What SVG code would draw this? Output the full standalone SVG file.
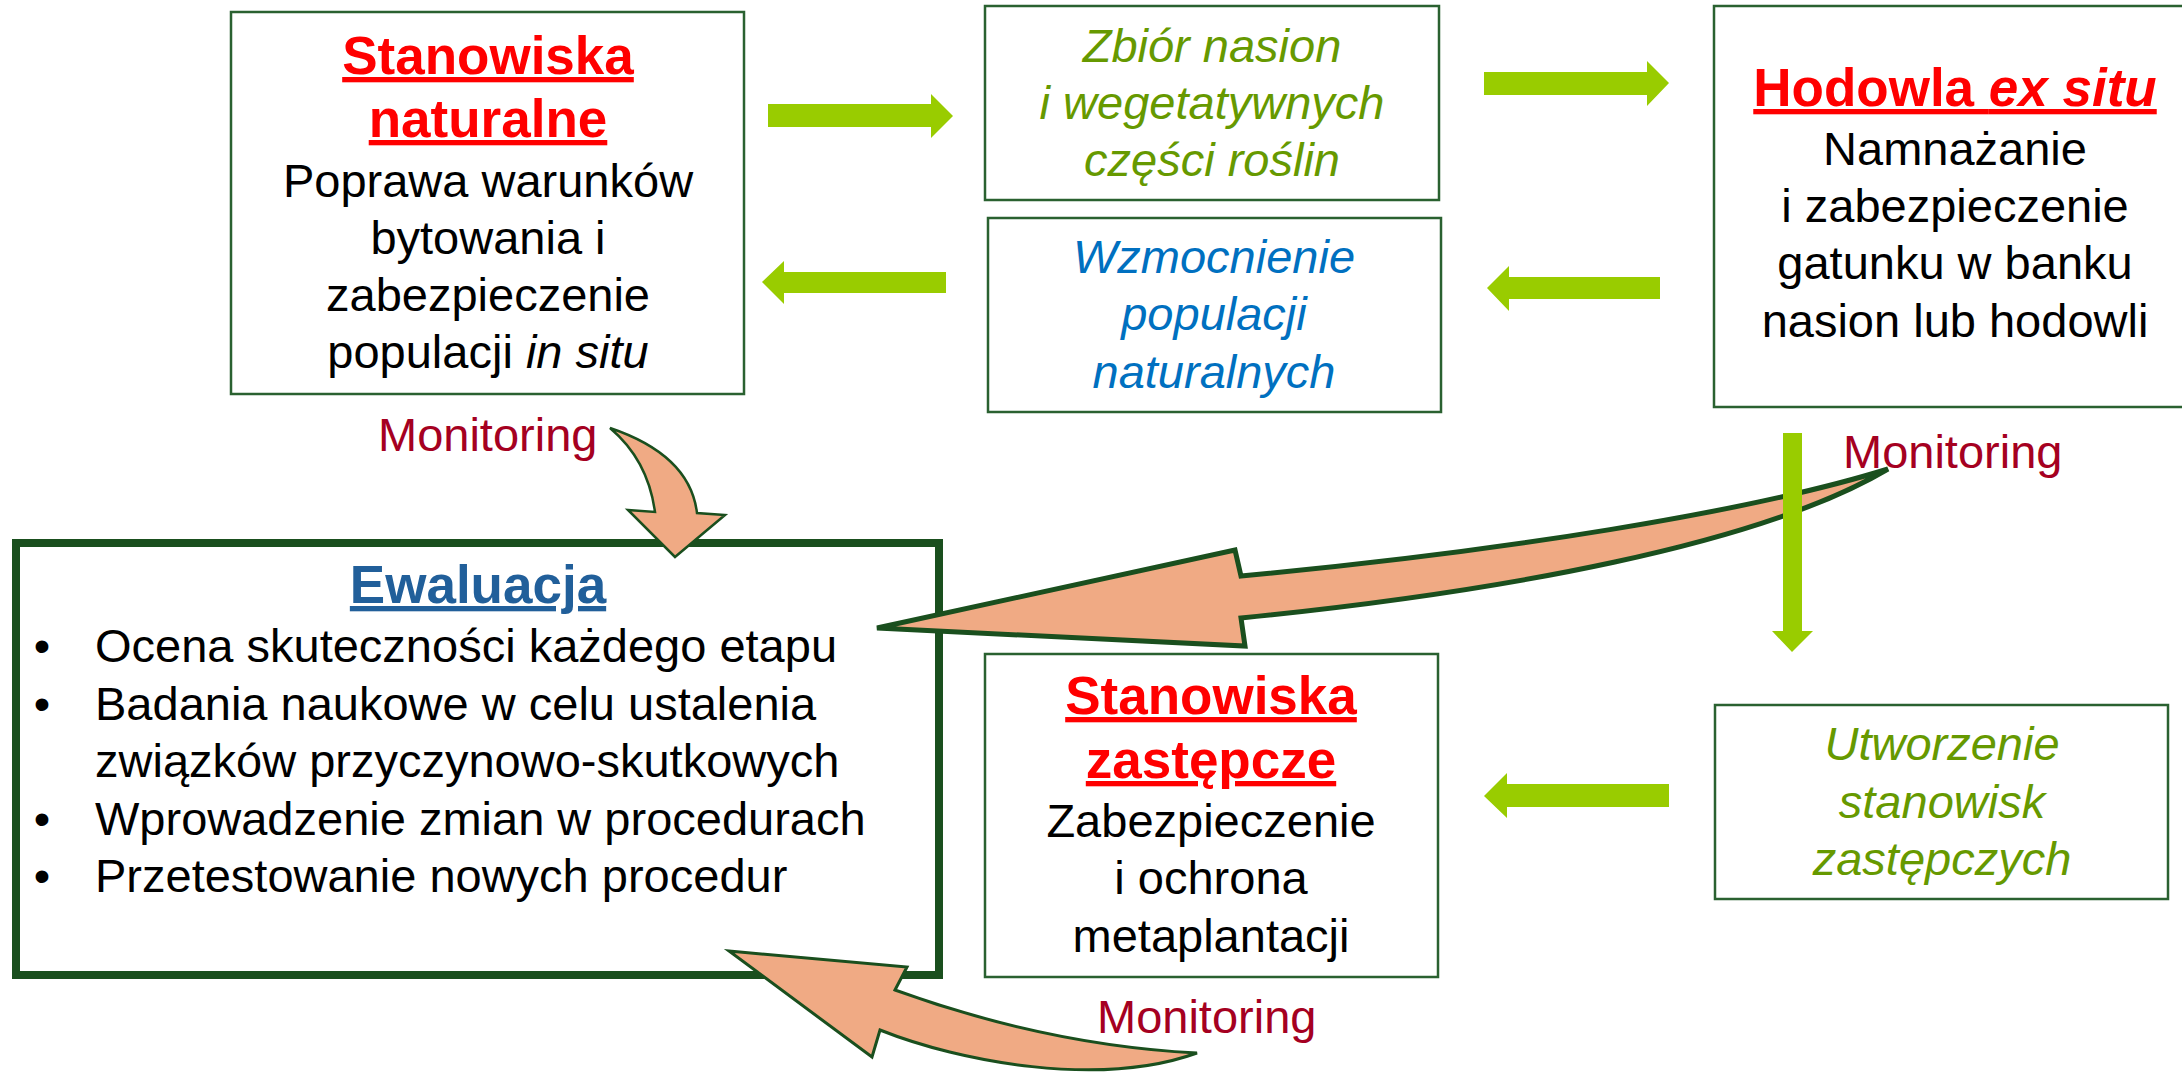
<svg xmlns="http://www.w3.org/2000/svg" width="2182" height="1076" viewBox="0 0 2182 1076">
<style>
text{font-family:"Liberation Sans",Arial,sans-serif;}
.box{fill:#fff;stroke:#2A6130;stroke-width:2.5;}
.evbox{fill:#fff;stroke:#1A4F1E;stroke-width:8;}
.head{font-size:53px;font-weight:bold;fill:#FF0000;text-anchor:middle;text-decoration:underline;}
.body{font-size:47px;fill:#000;text-anchor:middle;}
.green{font-size:47px;font-style:italic;fill:#669900;text-anchor:middle;}
.blue{font-size:47px;font-style:italic;fill:#0070C0;text-anchor:middle;}
.mon{font-size:47px;fill:#A50021;}
.ev{font-size:47px;fill:#000;}
.evh{font-size:53px;font-weight:bold;fill:#215F9A;text-anchor:middle;text-decoration:underline;}
.garrow{fill:#99CC00;}
.sarrow{fill:#F0AA84;stroke:#1A4F1E;stroke-linejoin:miter;}
</style>

<g id="node-stanowiska-naturalne">
<rect class="box" x="231" y="12" width="513" height="382"/>
<text class="head" x="488" y="74">Stanowiska</text>
<text class="head" x="488" y="137">naturalne</text>
<text class="body" x="488" y="197">Poprawa warunków</text>
<text class="body" x="488" y="254">bytowania i</text>
<text class="body" x="488" y="311">zabezpieczenie</text>
<text class="body" x="488" y="368">populacji <tspan font-style="italic">in situ</tspan></text>
</g>

<g id="node-zbior">
<rect class="box" x="985" y="6" width="454" height="194"/>
<text class="green" x="1212" y="62">Zbiór nasion</text>
<text class="green" x="1212" y="119">i wegetatywnych</text>
<text class="green" x="1212" y="176">części roślin</text>
</g>

<g id="node-wzmocnienie">
<rect class="box" x="988" y="218" width="453" height="194"/>
<text class="blue" x="1214" y="273">Wzmocnienie</text>
<text class="blue" x="1214" y="330">populacji</text>
<text class="blue" x="1214" y="388">naturalnych</text>
</g>

<g id="node-hodowla">
<rect class="box" x="1714" y="6" width="482" height="401"/>
<text class="head" x="1955" y="106">Hodowla <tspan font-style="italic">ex situ</tspan></text>
<text class="body" x="1955" y="165">Namnażanie</text>
<text class="body" x="1955" y="222">i zabezpieczenie</text>
<text class="body" x="1955" y="279">gatunku w banku</text>
<text class="body" x="1955" y="337">nasion lub hodowli</text>
</g>

<g id="node-ewaluacja">
<rect class="evbox" x="16" y="543" width="923" height="432"/>
<text class="evh" x="478" y="603">Ewaluacja</text>
<text class="ev" x="42" y="662" text-anchor="middle">•</text>
<text class="ev" x="95" y="662">Ocena skuteczności każdego etapu</text>
<text class="ev" x="42" y="720" text-anchor="middle">•</text>
<text class="ev" x="95" y="720">Badania naukowe w celu ustalenia</text>
<text class="ev" x="95" y="777">związków przyczynowo-skutkowych</text>
<text class="ev" x="42" y="835" text-anchor="middle">•</text>
<text class="ev" x="95" y="835">Wprowadzenie zmian w procedurach</text>
<text class="ev" x="42" y="892" text-anchor="middle">•</text>
<text class="ev" x="95" y="892">Przetestowanie nowych procedur</text>
</g>

<g id="node-stanowiska-zastepcze">
<rect class="box" x="985" y="654" width="453" height="323"/>
<text class="head" x="1211" y="714">Stanowiska</text>
<text class="head" x="1211" y="778">zastępcze</text>
<text class="body" x="1211" y="837">Zabezpieczenie</text>
<text class="body" x="1211" y="894">i ochrona</text>
<text class="body" x="1211" y="952">metaplantacji</text>
</g>

<g id="node-utworzenie">
<rect class="box" x="1715" y="705" width="453" height="194"/>
<text class="green" x="1942" y="760">Utworzenie</text>
<text class="green" x="1942" y="818">stanowisk</text>
<text class="green" x="1942" y="875">zastępczych</text>
</g>

<g id="connectors">
<path class="sarrow" stroke-width="2.5" d="M610,428 Q690,455 697,513 L725,515 L675,557 L628,510 L655,512 Q648,460 610,428 Z"/>
<path class="sarrow" stroke-width="5" d="M1888,469 C1750,512 1500,552 1241,576 L1235,550 L877,628 L1245,646 L1241,618 C1500,592 1760,545 1888,469 Z"/>
<path class="sarrow" stroke-width="3" d="M1197,1053 C1100,1048 1000,1028 895,990 L907,967 L729,951 L872,1057 L880,1030 C960,1062 1100,1088 1197,1053 Z"/>

<polygon class="garrow" points="768,104 931,104 931,94 953,116 931,138 931,127 768,127"/>
<polygon class="garrow" points="946,272 784,272 784,261 762,282 784,304 784,293 946,293"/>
<polygon class="garrow" points="1484,72 1647,72 1647,61 1669,83 1647,106 1647,95 1484,95"/>
<polygon class="garrow" points="1660,277 1509,277 1509,266 1487,288 1509,311 1509,299 1660,299"/>
<polygon class="garrow" points="1783,433 1802,433 1802,631 1813,631 1792,652 1772,631 1783,631"/>
<polygon class="garrow" points="1669,784 1507,784 1507,773 1484,796 1507,818 1507,807 1669,807"/>

<text class="mon" x="378" y="451">Monitoring</text>
<text class="mon" x="1843" y="468">Monitoring</text>
<text class="mon" x="1097" y="1033">Monitoring</text>
</g>
</svg>
